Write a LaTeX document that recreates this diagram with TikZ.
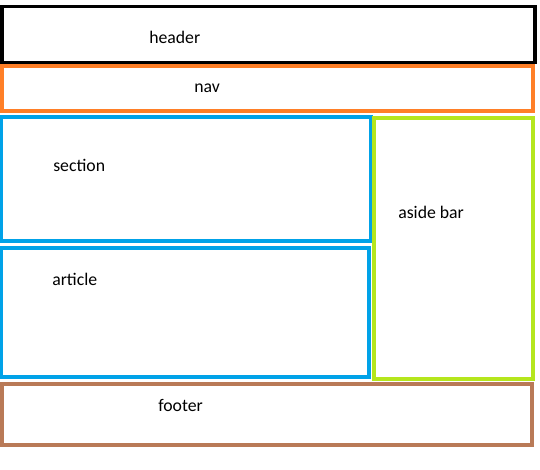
\documentclass[tikz,border=0pt]{standalone}
\usepackage{fontspec}
\setmainfont{Carlito}
\usepackage{xcolor}
\definecolor{navorange}{HTML}{FF7F27}
\definecolor{partblue}{HTML}{00A2E8}
\definecolor{asidelime}{HTML}{B5E61D}
\definecolor{footbrown}{HTML}{B97A57}
\begin{document}
\begin{tikzpicture}[x=0.75pt,y=-0.75pt]
\tikzset{layout box/.style={draw=#1,line width=2.6pt,rectangle,inner sep=0pt}}
\tikzset{box label/.style={anchor=west,inner sep=0pt,font=\fontsize{13.3}{16}\selectfont}}

\useasboundingbox (0,0) rectangle (540,470);

\node[layout box=black,minimum width=399.75pt,minimum height=42pt] (header) at (268.5,34.5) {};
\node[layout box=navorange,minimum width=398.25pt,minimum height=33.75pt] (nav) at (267.5,88.5) {};
\node[layout box=partblue,minimum width=277.5pt,minimum height=93pt] (section) at (186,179) {};
\node[layout box=partblue,minimum width=276pt,minimum height=96.75pt] (article) at (185,312.5) {};
\node[layout box=asidelime,minimum width=119.25pt,minimum height=195.75pt] (aside) at (453.5,248.5) {};
\node[layout box=footbrown,minimum width=397.5pt,minimum height=45.75pt] (footer) at (267,414.5) {};

\node[box label] (header text) at (149,37) {header};
\node[box label] (nav text) at (194,88) {nav};
\node[box label] (section text) at (53,165) {section};
\node[box label] (article text) at (52,279) {article};
\node[box label] (aside text) at (398,212) {aside bar};
\node[box label] (footer text) at (158,405) {footer};

\end{tikzpicture}
\end{document}
